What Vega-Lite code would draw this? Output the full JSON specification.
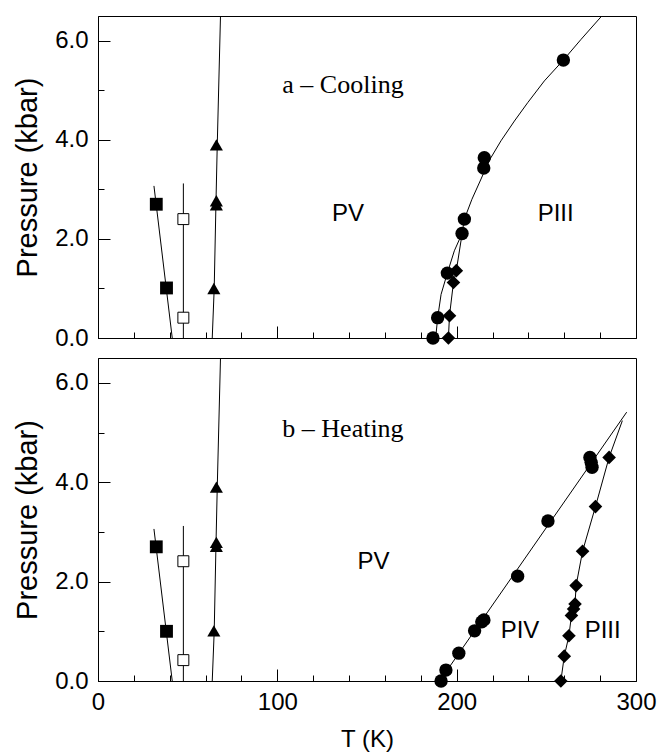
{
  "$schema": "https://vega.github.io/schema/vega-lite/v6.json",
  "padding": {"left": 13, "top": 15, "right": 20, "bottom": 4},
  "spacing": 6,
  "config": {
    "font": "Liberation Sans",
    "view": {"stroke": "black", "strokeWidth": 1},
    "axis": {"grid": false, "domainColor": "black", "domainWidth": 1, "tickColor": "black", "tickWidth": 1, "labelColor": "black", "titleColor": "black", "labelFont": "Liberation Sans", "titleFont": "Liberation Sans", "labelFontSize": 24, "titleFontSize": 29, "titleFontWeight": "normal", "labelOverlap": false, "labelFlush": false}
  },
  "datasets": {
    "pts": [
      {"panel": "a", "sym": "sqf", "T": 32.5, "P": 2.70},
      {"panel": "a", "sym": "sqf", "T": 38.2, "P": 1.01},
      {"panel": "a", "sym": "sqo", "T": 47.6, "P": 2.40},
      {"panel": "a", "sym": "sqo", "T": 47.6, "P": 0.41},
      {"panel": "a", "sym": "tri", "T": 66.0, "P": 3.90},
      {"panel": "a", "sym": "tri", "T": 66.0, "P": 2.77},
      {"panel": "a", "sym": "tri", "T": 66.0, "P": 2.69},
      {"panel": "a", "sym": "tri", "T": 64.6, "P": 1.00},
      {"panel": "a", "sym": "circ", "T": 259.5, "P": 5.61},
      {"panel": "a", "sym": "circ", "T": 215.4, "P": 3.64},
      {"panel": "a", "sym": "circ", "T": 215.1, "P": 3.43},
      {"panel": "a", "sym": "circ", "T": 204.3, "P": 2.40},
      {"panel": "a", "sym": "circ", "T": 203.0, "P": 2.11},
      {"panel": "a", "sym": "circ", "T": 194.8, "P": 1.31},
      {"panel": "a", "sym": "circ", "T": 189.4, "P": 0.41},
      {"panel": "a", "sym": "circ", "T": 186.8, "P": 0.0},
      {"panel": "a", "sym": "dia", "T": 199.8, "P": 1.36},
      {"panel": "a", "sym": "dia", "T": 198.2, "P": 1.12},
      {"panel": "a", "sym": "dia", "T": 196.0, "P": 0.45},
      {"panel": "a", "sym": "dia", "T": 195.4, "P": 0.0},
      {"panel": "b", "sym": "sqf", "T": 32.5, "P": 2.70},
      {"panel": "b", "sym": "sqf", "T": 38.2, "P": 1.00},
      {"panel": "b", "sym": "sqo", "T": 47.6, "P": 2.41},
      {"panel": "b", "sym": "sqo", "T": 47.6, "P": 0.42},
      {"panel": "b", "sym": "tri", "T": 66.0, "P": 3.90},
      {"panel": "b", "sym": "tri", "T": 66.0, "P": 2.79},
      {"panel": "b", "sym": "tri", "T": 66.0, "P": 2.71},
      {"panel": "b", "sym": "tri", "T": 64.6, "P": 1.01},
      {"panel": "b", "sym": "circ", "T": 274.3, "P": 4.50},
      {"panel": "b", "sym": "circ", "T": 275.0, "P": 4.40},
      {"panel": "b", "sym": "circ", "T": 275.5, "P": 4.30},
      {"panel": "b", "sym": "circ", "T": 250.9, "P": 3.22},
      {"panel": "b", "sym": "circ", "T": 234.0, "P": 2.11},
      {"panel": "b", "sym": "circ", "T": 215.2, "P": 1.23},
      {"panel": "b", "sym": "circ", "T": 214.0, "P": 1.19},
      {"panel": "b", "sym": "circ", "T": 210.0, "P": 1.01},
      {"panel": "b", "sym": "circ", "T": 201.2, "P": 0.56},
      {"panel": "b", "sym": "circ", "T": 194.0, "P": 0.22},
      {"panel": "b", "sym": "circ", "T": 191.3, "P": 0.0},
      {"panel": "b", "sym": "dia", "T": 285.0, "P": 4.50},
      {"panel": "b", "sym": "dia", "T": 277.4, "P": 3.51},
      {"panel": "b", "sym": "dia", "T": 270.2, "P": 2.61},
      {"panel": "b", "sym": "dia", "T": 266.6, "P": 1.92},
      {"panel": "b", "sym": "dia", "T": 266.0, "P": 1.55},
      {"panel": "b", "sym": "dia", "T": 265.2, "P": 1.45},
      {"panel": "b", "sym": "dia", "T": 264.0, "P": 1.32},
      {"panel": "b", "sym": "dia", "T": 262.6, "P": 0.91},
      {"panel": "b", "sym": "dia", "T": 260.0, "P": 0.50},
      {"panel": "b", "sym": "dia", "T": 258.1, "P": 0.0}
    ],
    "lines": [
      {"panel": "a", "curve": "sq", "T": 31.2, "P": 3.07},
      {"panel": "a", "curve": "sq", "T": 41.4, "P": 0.0},
      {"panel": "a", "curve": "osq", "T": 47.6, "P": 0.0},
      {"panel": "a", "curve": "osq", "T": 47.6, "P": 3.12},
      {"panel": "a", "curve": "tri", "T": 63.7, "P": 0.0},
      {"panel": "a", "curve": "tri", "T": 64.8, "P": 1.0},
      {"panel": "a", "curve": "tri", "T": 65.8, "P": 2.77},
      {"panel": "a", "curve": "tri", "T": 66.5, "P": 3.9},
      {"panel": "a", "curve": "tri", "T": 68.3, "P": 6.5},
      {"panel": "a", "curve": "circ", "T": 188.3, "P": 0.0},
      {"panel": "a", "curve": "circ", "T": 189.4, "P": 0.41},
      {"panel": "a", "curve": "circ", "T": 191.3, "P": 0.88},
      {"panel": "a", "curve": "circ", "T": 194.8, "P": 1.31},
      {"panel": "a", "curve": "circ", "T": 198.7, "P": 1.76},
      {"panel": "a", "curve": "circ", "T": 203.0, "P": 2.11},
      {"panel": "a", "curve": "circ", "T": 204.3, "P": 2.40},
      {"panel": "a", "curve": "circ", "T": 208.5, "P": 2.80},
      {"panel": "a", "curve": "circ", "T": 213.6, "P": 3.21},
      {"panel": "a", "curve": "circ", "T": 216.4, "P": 3.44},
      {"panel": "a", "curve": "circ", "T": 219.1, "P": 3.64},
      {"panel": "a", "curve": "circ", "T": 224.7, "P": 3.98},
      {"panel": "a", "curve": "circ", "T": 232.2, "P": 4.38},
      {"panel": "a", "curve": "circ", "T": 239.6, "P": 4.75},
      {"panel": "a", "curve": "circ", "T": 248.9, "P": 5.19},
      {"panel": "a", "curve": "circ", "T": 259.5, "P": 5.61},
      {"panel": "a", "curve": "circ", "T": 269.4, "P": 6.03},
      {"panel": "a", "curve": "circ", "T": 280.9, "P": 6.5},
      {"panel": "a", "curve": "dia", "T": 195.4, "P": 0.0},
      {"panel": "a", "curve": "dia", "T": 196.0, "P": 0.45},
      {"panel": "a", "curve": "dia", "T": 198.2, "P": 1.12},
      {"panel": "a", "curve": "dia", "T": 199.8, "P": 1.36},
      {"panel": "a", "curve": "dia", "T": 202.8, "P": 2.05},
      {"panel": "b", "curve": "sq", "T": 31.2, "P": 3.06},
      {"panel": "b", "curve": "sq", "T": 41.4, "P": 0.0},
      {"panel": "b", "curve": "osq", "T": 47.6, "P": 0.0},
      {"panel": "b", "curve": "osq", "T": 47.6, "P": 3.12},
      {"panel": "b", "curve": "tri", "T": 63.7, "P": 0.0},
      {"panel": "b", "curve": "tri", "T": 64.8, "P": 1.0},
      {"panel": "b", "curve": "tri", "T": 65.8, "P": 2.77},
      {"panel": "b", "curve": "tri", "T": 66.5, "P": 3.9},
      {"panel": "b", "curve": "tri", "T": 68.3, "P": 6.5},
      {"panel": "b", "curve": "circ", "T": 190.5, "P": 0.0},
      {"panel": "b", "curve": "circ", "T": 294.8, "P": 5.41},
      {"panel": "b", "curve": "dia", "T": 258.1, "P": 0.0},
      {"panel": "b", "curve": "dia", "T": 260.0, "P": 0.50},
      {"panel": "b", "curve": "dia", "T": 262.6, "P": 0.91},
      {"panel": "b", "curve": "dia", "T": 264.0, "P": 1.32},
      {"panel": "b", "curve": "dia", "T": 266.0, "P": 1.55},
      {"panel": "b", "curve": "dia", "T": 266.6, "P": 1.92},
      {"panel": "b", "curve": "dia", "T": 270.2, "P": 2.61},
      {"panel": "b", "curve": "dia", "T": 277.4, "P": 3.51},
      {"panel": "b", "curve": "dia", "T": 285.0, "P": 4.50},
      {"panel": "b", "curve": "dia", "T": 292.4, "P": 5.24}
    ],
    "labels": [
      {"panel": "a", "style": "serif", "T": 136.6, "P": 5.11, "text": "a – Cooling"},
      {"panel": "a", "style": "sans", "T": 139.4, "P": 2.5, "text": "PV"},
      {"panel": "a", "style": "sans", "T": 255.2, "P": 2.5, "text": "PIII"},
      {"panel": "b", "style": "serif", "T": 136.6, "P": 5.07, "text": "b – Heating"},
      {"panel": "b", "style": "sans", "T": 153.6, "P": 2.39, "text": "PV"},
      {"panel": "b", "style": "sans", "T": 235.3, "P": 1.01, "text": "PIV"},
      {"panel": "b", "style": "sans", "T": 281.4, "P": 1.0, "text": "PIII"}
    ]
  },
  "vconcat": [
    {
      "width": 538,
      "height": 322,
      "encoding": {
        "x": {"field": "T", "type": "quantitative", "scale": {"domain": [0, 300], "nice": false, "zero": false},
          "axis": {"values": [0, 20, 40, 60, 80, 100, 120, 140, 160, 180, 200, 220, 240, 260, 280, 300], "labels": false, "title": null,
            "tickSize": {"condition": {"test": "datum.value % 100 === 0", "value": -12}, "value": -6}}},
        "y": {"field": "P", "type": "quantitative", "scale": {"domain": [0, 6.5], "nice": false, "zero": false},
          "axis": {"values": [0, 1, 2, 3, 4, 5, 6], "title": "Pressure (kbar)", "labelExpr": "datum.value % 2 === 0 ? format(datum.value, '.1f') : ''", "labelPadding": 22, "titlePadding": 12,
            "tickSize": {"condition": {"test": "datum.value % 2 === 0", "value": -12}, "value": -6}}}
      },
      "layer": [
        {
          "data": {"name": "lines"},
          "transform": [{"filter": "datum.panel === 'a'"}],
          "mark": {"type": "line", "color": "black", "strokeWidth": 1, "clip": true},
          "encoding": {"detail": {"field": "curve"}, "order": {"field": "P", "type": "quantitative"}}
        },
        {
          "data": {"name": "pts"},
          "transform": [{"filter": "datum.panel === 'a' && datum.sym !== 'sqo'"}],
          "mark": {"type": "point", "filled": true, "color": "black", "opacity": 1},
          "encoding": {
            "shape": {"field": "sym", "type": "nominal", "legend": null, "scale": {"domain": ["sqf", "tri", "circ", "dia"], "range": ["square", "triangle-up", "circle", "diamond"]}},
            "size": {"field": "sym", "type": "nominal", "legend": null, "scale": {"domain": ["sqf", "tri", "circ", "dia"], "range": [165, 185, 100, 150]}}
          }
        },
        {
          "data": {"name": "pts"},
          "transform": [{"filter": "datum.panel === 'a' && datum.sym === 'sqo'"}],
          "mark": {"type": "point", "shape": "square", "filled": true, "fill": "white", "stroke": "black", "strokeWidth": 1, "size": 120, "opacity": 1}
        },
        {
          "data": {"name": "labels"},
          "transform": [{"filter": "datum.panel === 'a' && datum.style === 'serif'"}],
          "mark": {"type": "text", "font": "Liberation Serif", "fontSize": 26, "align": "center", "baseline": "middle", "color": "black"},
          "encoding": {"text": {"field": "text"}}
        },
        {
          "data": {"name": "labels"},
          "transform": [{"filter": "datum.panel === 'a' && datum.style === 'sans'"}],
          "mark": {"type": "text", "font": "Liberation Sans", "fontSize": 24, "align": "center", "baseline": "middle", "color": "black"},
          "encoding": {"text": {"field": "text"}}
        }
      ]
    },
    {
      "width": 538,
      "height": 323,
      "encoding": {
        "x": {"field": "T", "type": "quantitative", "scale": {"domain": [0, 300], "nice": false, "zero": false},
          "axis": {"values": [0, 20, 40, 60, 80, 100, 120, 140, 160, 180, 200, 220, 240, 260, 280, 300], "title": "T (K)", "titleFontSize": 24, "labelExpr": "datum.value % 100 === 0 ? datum.label : ''", "labelPadding": 21, "titlePadding": 7,
            "tickSize": {"condition": {"test": "datum.value % 100 === 0", "value": -12}, "value": -6}}},
        "y": {"field": "P", "type": "quantitative", "scale": {"domain": [0, 6.5], "nice": false, "zero": false},
          "axis": {"values": [0, 1, 2, 3, 4, 5, 6], "title": "Pressure (kbar)", "labelExpr": "datum.value % 2 === 0 ? format(datum.value, '.1f') : ''", "labelPadding": 22, "titlePadding": 12,
            "tickSize": {"condition": {"test": "datum.value % 2 === 0", "value": -12}, "value": -6}}}
      },
      "layer": [
        {
          "data": {"name": "lines"},
          "transform": [{"filter": "datum.panel === 'b'"}],
          "mark": {"type": "line", "color": "black", "strokeWidth": 1, "clip": true},
          "encoding": {"detail": {"field": "curve"}, "order": {"field": "P", "type": "quantitative"}}
        },
        {
          "data": {"name": "pts"},
          "transform": [{"filter": "datum.panel === 'b' && datum.sym !== 'sqo'"}],
          "mark": {"type": "point", "filled": true, "color": "black", "opacity": 1},
          "encoding": {
            "shape": {"field": "sym", "type": "nominal", "legend": null, "scale": {"domain": ["sqf", "tri", "circ", "dia"], "range": ["square", "triangle-up", "circle", "diamond"]}},
            "size": {"field": "sym", "type": "nominal", "legend": null, "scale": {"domain": ["sqf", "tri", "circ", "dia"], "range": [165, 185, 100, 150]}}
          }
        },
        {
          "data": {"name": "pts"},
          "transform": [{"filter": "datum.panel === 'b' && datum.sym === 'sqo'"}],
          "mark": {"type": "point", "shape": "square", "filled": true, "fill": "white", "stroke": "black", "strokeWidth": 1, "size": 120, "opacity": 1}
        },
        {
          "data": {"name": "labels"},
          "transform": [{"filter": "datum.panel === 'b' && datum.style === 'serif'"}],
          "mark": {"type": "text", "font": "Liberation Serif", "fontSize": 26, "align": "center", "baseline": "middle", "color": "black"},
          "encoding": {"text": {"field": "text"}}
        },
        {
          "data": {"name": "labels"},
          "transform": [{"filter": "datum.panel === 'b' && datum.style === 'sans'"}],
          "mark": {"type": "text", "font": "Liberation Sans", "fontSize": 24, "align": "center", "baseline": "middle", "color": "black"},
          "encoding": {"text": {"field": "text"}}
        }
      ]
    }
  ]
}
